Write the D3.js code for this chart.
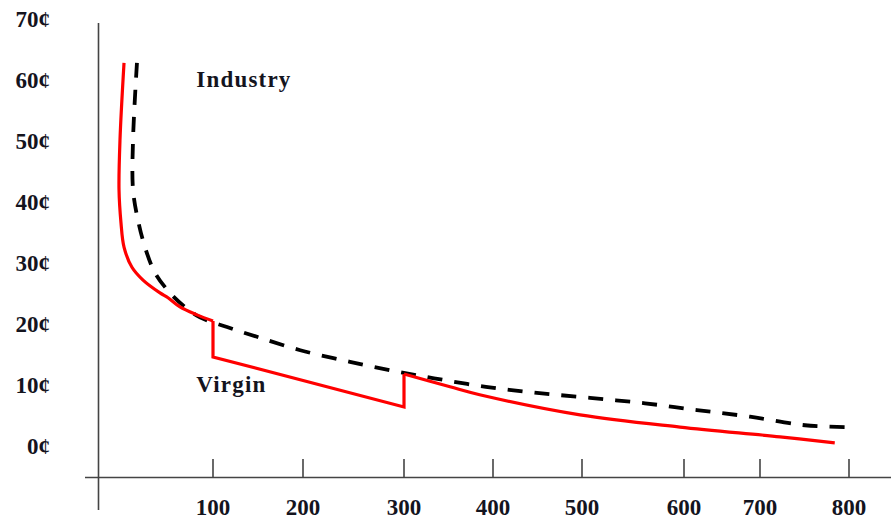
<!DOCTYPE html>
<html><head><meta charset="utf-8">
<script src="https://cdn.jsdelivr.net/npm/d3@7"></script>
<style>
html,body{margin:0;padding:0;background:#fff;}
svg text{font-family:"Liberation Serif","Times New Roman",serif;font-weight:bold;fill:#14141e;}
</style></head>
<body><svg id="c" width="891" height="523"></svg>
<script>
// Tick labels
const xTicks = [100, 200, 300, 400, 500, 600, 700, 800];
const yTicks = [0, 10, 20, 30, 40, 50, 60, 70];

// Virgin (red) series: [quantity, cents]
const virginUpper = [[9.2,62.8],[5.1,50.2],[4.1,42.0],[6.1,36.6],[9.2,32.6],[17.3,29.3],[28.6,27.2],[45.9,25.1],[54.1,24.3],[66.3,22.8],[83.7,21.5],[100,20.5]];
const virginMiddle = [[100,20.5],[100,14.6],[300,6.4],[300,11.8]];
const virginLower = [[300,11.8],[351.7,9.7],[385,8.4],[497.8,5.1],[596,3.1],[722.5,1.5],[784,0.5]];

// Industry (dashed) series
const industry = [[22.4,62.8],[18.4,50.2],[18.4,42.0],[23.5,37.0],[30.6,32.6],[40.8,28.4],[56.1,25.1],[71.4,22.8],[86.7,21.1],[115.6,19.5],[148.9,17.9],[197,15.7],[246.5,13.8],[296,12.1],[333.7,11.1],[392,9.7],[449.4,8.7],[507.8,7.9],[561.8,7.0],[617,5.9],[686.8,4.8],[750.6,3.4],[797,3.1]];

const labels = [{text:"Industry", x:83, y:58.8}, {text:"Virgin", x:83, y:8.9}];

const svg = d3.select("#c");
// hand-drawn axis: uneven tick spacing reproduced with a piecewise scale
const x = d3.scaleLinear()
  .domain([0,100,200,300,400,500,600,700,800])
  .range([115,213,303,404,493,582,684,760,849]);
const y = d3.scaleLinear().domain([0,70]).range([446,19]);

const axisColor = "#444";
const axisY = 477.5, axisX = 98.5;

svg.append("line").attr("x1",85).attr("x2",891).attr("y1",axisY).attr("y2",axisY)
  .attr("stroke",axisColor).attr("stroke-width",1.6);
svg.append("line").attr("x1",axisX).attr("x2",axisX).attr("y1",23).attr("y2",510)
  .attr("stroke",axisColor).attr("stroke-width",1.6);

svg.selectAll(".xt").data(xTicks).enter().append("line")
  .attr("x1",d=>x(d)).attr("x2",d=>x(d)).attr("y1",459).attr("y2",axisY)
  .attr("stroke",axisColor).attr("stroke-width",1.6);
svg.selectAll(".xl").data(xTicks).enter().append("text")
  .attr("x",d=>x(d)).attr("y",515).attr("text-anchor","middle")
  .attr("font-size",23).text(d=>d);

svg.selectAll(".yl").data(yTicks).enter().append("text")
  .attr("x",50).attr("y",d=>y(d)+8).attr("text-anchor","end")
  .attr("font-size",23).text(d=>d+"¢");

const line = d3.line().x(d=>x(d[0])).y(d=>y(d[1]));

svg.append("path").datum(industry)
  .attr("d",line.curve(d3.curveCatmullRom.alpha(0.5)))
  .attr("fill","none").attr("stroke","#000").attr("stroke-width",3.8)
  .attr("stroke-dasharray","15,12");

svg.append("path").datum(virginUpper)
  .attr("d",d3.line().x(d=>x(d[0])).y(d=>y(d[1])).curve(d3.curveCatmullRom.alpha(0.5)))
  .attr("fill","none").attr("stroke","#ff0000").attr("stroke-width",3.2).attr("stroke-linejoin","round");
svg.append("path").datum(virginMiddle)
  .attr("d",d3.line().x(d=>x(d[0])).y(d=>y(d[1])))
  .attr("fill","none").attr("stroke","#ff0000").attr("stroke-width",3.2).attr("stroke-linejoin","miter");
svg.append("path").datum(virginLower)
  .attr("d",d3.line().x(d=>x(d[0])).y(d=>y(d[1])).curve(d3.curveCatmullRom.alpha(0.5)))
  .attr("fill","none").attr("stroke","#ff0000").attr("stroke-width",3.2).attr("stroke-linejoin","round");

svg.selectAll(".lab").data(labels).enter().append("text")
  .attr("x",d=>x(d.x)).attr("y",d=>y(d.y)).attr("font-size",23)
  .attr("letter-spacing",1.2).text(d=>d.text);
</script></body></html>
